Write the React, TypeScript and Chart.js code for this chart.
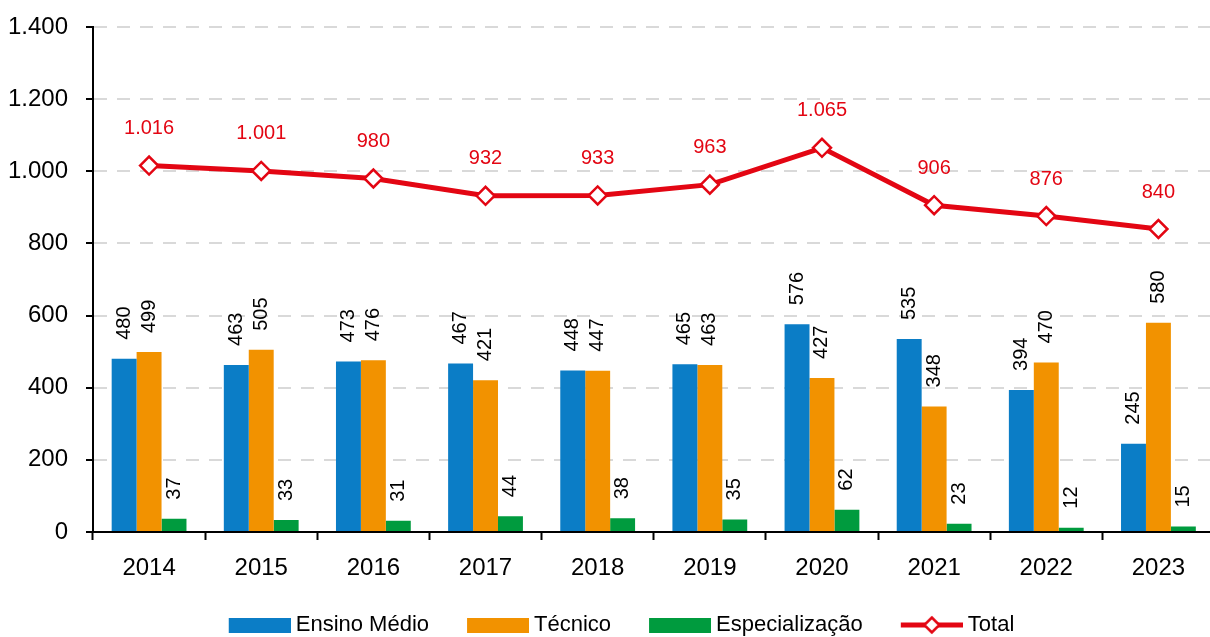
import React, { useEffect, useRef } from "react";
import { Chart, registerables } from "chart.js";

Chart.register(...registerables);

const years = ["2014", "2015", "2016", "2017", "2018", "2019", "2020", "2021", "2022", "2023"];
const ensinoMedio = [480, 463, 473, 467, 448, 465, 576, 535, 394, 245];
const tecnico = [499, 505, 476, 421, 447, 463, 427, 348, 470, 580];
const especializacao = [37, 33, 31, 44, 38, 35, 62, 23, 12, 15];
const total = [1016, 1001, 980, 932, 933, 963, 1065, 906, 876, 840];
const seriesNames = ["Ensino Médio", "Técnico", "Especialização", "Total"];
const yMin = 0;
const yMax = 1400;
const yStep = 200;

const BLUE = "#0B7DC6";
const ORANGE = "#F29200";
const GREEN = "#009B3E";
const RED = "#E30613";
const FONT = "'Liberation Sans', Arial, sans-serif";

const fmt = (v: number) => String(v).replace(/\B(?=(\d{3})+(?!\d))/g, ".");

function boxImage(color: string) {
  const c = document.createElement("canvas");
  c.width = 96;
  c.height = 15;
  const ctx = c.getContext("2d")!;
  ctx.fillStyle = color;
  ctx.fillRect(34, 0, 62, 15);
  return c;
}

function lineImage() {
  const c = document.createElement("canvas");
  c.width = 96;
  c.height = 22;
  const ctx = c.getContext("2d")!;
  ctx.strokeStyle = RED;
  ctx.lineWidth = 5;
  ctx.beginPath();
  ctx.moveTo(34, 11);
  ctx.lineTo(96, 11);
  ctx.stroke();
  const cx = 65;
  const r = 7.5;
  ctx.beginPath();
  ctx.moveTo(cx, 11 - r);
  ctx.lineTo(cx + r, 11);
  ctx.lineTo(cx, 11 + r);
  ctx.lineTo(cx - r, 11);
  ctx.closePath();
  ctx.fillStyle = "#fff";
  ctx.fill();
  ctx.lineWidth = 2.5;
  ctx.stroke();
  return c;
}

const valueLabels = {
  id: "valueLabels",
  afterDatasetsDraw(chart: any) {
    const ctx = chart.ctx;
    chart.data.datasets.forEach((ds: any, di: number) => {
      const meta = chart.getDatasetMeta(di);
      meta.data.forEach((el: any, i: number) => {
        const v = ds.data[i];
        ctx.save();
        if (ds.type === "line") {
          ctx.fillStyle = RED;
          ctx.font = `20px ${FONT}`;
          ctx.textAlign = "center";
          ctx.textBaseline = "middle";
          ctx.fillText(fmt(v), el.x, el.y - 37);
        } else {
          ctx.fillStyle = "#000";
          ctx.font = `20px ${FONT}`;
          ctx.translate(el.x, el.y - 19);
          ctx.rotate(-Math.PI / 2);
          ctx.textAlign = "left";
          ctx.textBaseline = "middle";
          ctx.fillText(String(v), 0, 0);
        }
        ctx.restore();
      });
    });
  },
};

export default function App() {
  const ref = useRef<HTMLCanvasElement>(null);

  useEffect(() => {
    const imgs = [boxImage(BLUE), boxImage(ORANGE), boxImage(GREEN), lineImage()];
    const chart = new Chart(ref.current!, {
      type: "bar",
      data: {
        labels: years,
        datasets: [
          { type: "bar", label: seriesNames[0], data: ensinoMedio, backgroundColor: BLUE, categoryPercentage: 0.667, barPercentage: 1 },
          { type: "bar", label: seriesNames[1], data: tecnico, backgroundColor: ORANGE, categoryPercentage: 0.667, barPercentage: 1 },
          { type: "bar", label: seriesNames[2], data: especializacao, backgroundColor: GREEN, categoryPercentage: 0.667, barPercentage: 1 },
          {
            type: "line",
            label: seriesNames[3],
            data: total,
            borderColor: RED,
            borderWidth: 5,
            pointStyle: "rectRot",
            pointRadius: 9,
            pointBorderWidth: 2.5,
            pointBackgroundColor: "#fff",
            pointBorderColor: RED,
            tension: 0,
          } as any,
        ],
      },
      options: {
        animation: false,
        responsive: false,
        maintainAspectRatio: false,
        layout: { padding: { top: 27, left: -11, right: 0, bottom: 0 } },
        plugins: {
          tooltip: { enabled: false },
          legend: {
            position: "bottom",
            labels: {
              usePointStyle: true,
              pointStyleWidth: 84,
              boxHeight: 15,
              padding: 10,
              color: "#000",
              font: { family: FONT, size: 22 },
              generateLabels: (c: any) => {
                const items = (Chart.defaults.plugins.legend.labels as any).generateLabels(c);
                items.forEach((it: any, i: number) => {
                  it.pointStyle = imgs[i];
                  it.rotation = 0;
                });
                return items;
              },
            },
          },
        },
        scales: {
          x: {
            grid: { display: true, drawOnChartArea: false, offset: true, tickLength: 8, tickColor: "#000", tickWidth: 2 },
            border: { display: true, color: "#000", width: 2 },
            ticks: { color: "#000", font: { family: FONT, size: 24 }, padding: 14 },
            afterFit: (s: any) => { s.height = 72; },
          },
          y: {
            min: yMin,
            max: yMax,
            grid: { color: "#D9D9D9", lineWidth: 2, tickColor: "#000", tickLength: 7, tickWidth: 2, tickBorderDash: [] },
            border: { display: true, color: "#000", width: 2, dash: [13, 10] },
            ticks: {
              stepSize: yStep,
              color: "#000",
              padding: 18,
              font: { family: FONT, size: 24 },
              callback: (v: any) => fmt(Number(v)),
            },
            afterFit: (s: any) => {
              s.width = 104;
              s.paddingTop = 0;
              s.paddingBottom = 0;
            },
          },
        },
      },
      plugins: [valueLabels],
    });
    return () => chart.destroy();
  }, []);

  return (
    <div style={{ position: "fixed", left: 0, top: 0, width: 1210, height: 637, overflow: "hidden", background: "#fff" }}>
      <canvas ref={ref} width={1226} height={646} style={{ display: "block", width: 1226, height: 646 }} />
    </div>
  );
}
